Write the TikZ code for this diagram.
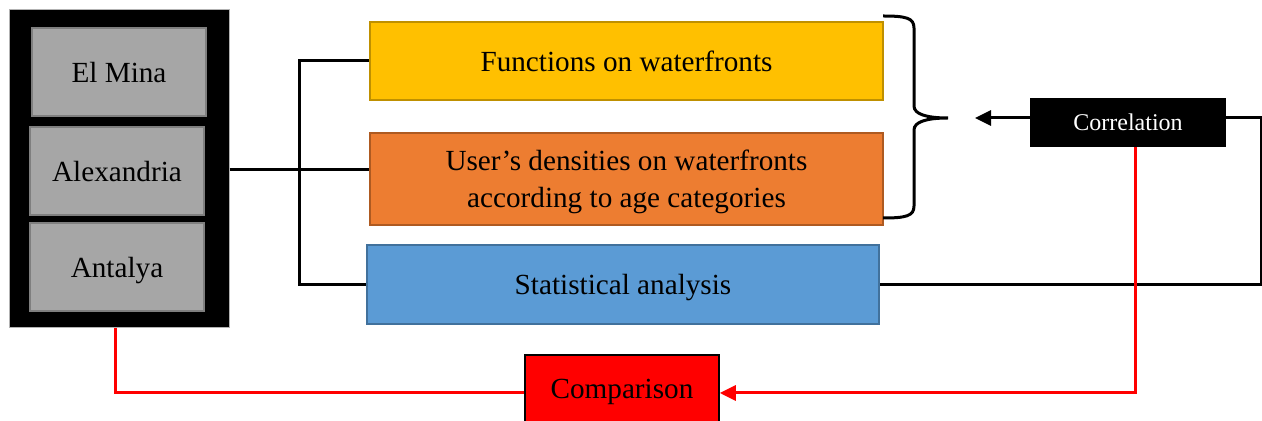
\documentclass[tikz,border=0pt]{standalone}
\usepackage{fontspec}
\setmainfont{Liberation Serif}
\usetikzlibrary{arrows.meta}
\definecolor{cityfill}{HTML}{A6A6A6}
\definecolor{cityedge}{HTML}{7F7F7F}
\definecolor{funcfill}{HTML}{FFC000}
\definecolor{funcedge}{HTML}{BF9000}
\definecolor{densfill}{HTML}{ED7D31}
\definecolor{densedge}{HTML}{AE5A21}
\definecolor{statfill}{HTML}{5B9BD5}
\definecolor{statedge}{HTML}{41719C}
\definecolor{cmpred}{HTML}{FF0000}
\begin{document}
\begin{tikzpicture}[x=0.5pt,y=-0.5pt,
  txt/.style={font=\fontsize{14.6}{18.5}\selectfont, align=center, inner sep=0pt,
    text depth=0pt},
  city/.style={txt, fill=cityfill, draw=cityedge, line width=1pt,
    minimum width=87pt, minimum height=44pt},
  stage/.style={txt, line width=0.8pt, minimum width=256.5pt},
  link/.style={line width=1.5pt, draw=black},
  redlink/.style={line width=1.5pt, draw=cmpred},
  tip/.style={-{Triangle[length=8pt,width=7.5pt]}}
]
\useasboundingbox (0,0) rectangle (1262,421);

% study sites
\node[fill=black, draw=gray!60, line width=0.5pt, minimum width=110pt,
  minimum height=159pt, inner sep=0pt] (sites) at (119,169) {};
\node[city] (elmina) at (119,72.5) {El Mina};
\node[city] (alex) at (117,171) {Alexandria};
\node[city] (antalya) at (117,267.5) {Antalya};

% analysis stages
\node[stage, fill=funcfill, draw=funcedge, minimum height=39pt] (func) at (626.5,61)
  {Functions on waterfronts};
\node[stage, fill=densfill, draw=densedge, minimum height=46pt] (dens) at (626.5,179)
  {User’s densities on waterfronts\\according to age categories};
\node[stage, fill=statfill, draw=statedge, minimum width=256pt, minimum height=39.5pt]
  (stat) at (623,284.5) {Statistical analysis};

% correlation and comparison
\node[fill=black, text=white, font=\fontsize{12}{14}\selectfont, inner sep=0pt,
  text depth=0pt, minimum width=98pt, minimum height=24.5pt] (corr) at (1128,122.5)
  {Correlation};
\node[txt, fill=cmpred, draw=black, line width=0.8pt, minimum width=97pt,
  minimum height=34pt] (comp) at (622,389) {Comparison};

% sites to the three stages
\coordinate (bus) at (299,170);
\draw[link] (sites.east |- bus) -- (bus -| dens.west);
\draw[link] (func.west) -| (bus) |- (stat.west);

% brace grouping the first two stages
\coordinate (bracetip) at (948,118);
\draw[link, line join=miter] (883,16) .. controls (906,16) and (914,18) .. (914,28)
  -- (914,106) .. controls (914,114) and (926,118) .. (bracetip)
  .. controls (926,118) and (914,122) .. (914,130)
  -- (914,206) .. controls (914,216) and (906,218) .. (883,218);

% correlation feedback
\coordinate (corrL) at ([yshift=2.25pt]corr.west);
\coordinate (corrR) at ([yshift=2.25pt]corr.east);
\coordinate (target) at (975,118);
\coordinate (loop) at (1261,118);
\draw[link, tip] (corrL) -- (target);
\draw[link] (corrR) -- (loop) |- (stat.east);

% comparison links
\coordinate (corrB) at ([xshift=3.5pt]corr.south);
\coordinate (sitesB) at ([xshift=-2pt]sites.south);
\draw[redlink, tip] (corrB) |- ([yshift=-2pt]comp.east);
\draw[redlink] ([yshift=-2pt]comp.west) -| (sitesB);
\end{tikzpicture}
\end{document}
